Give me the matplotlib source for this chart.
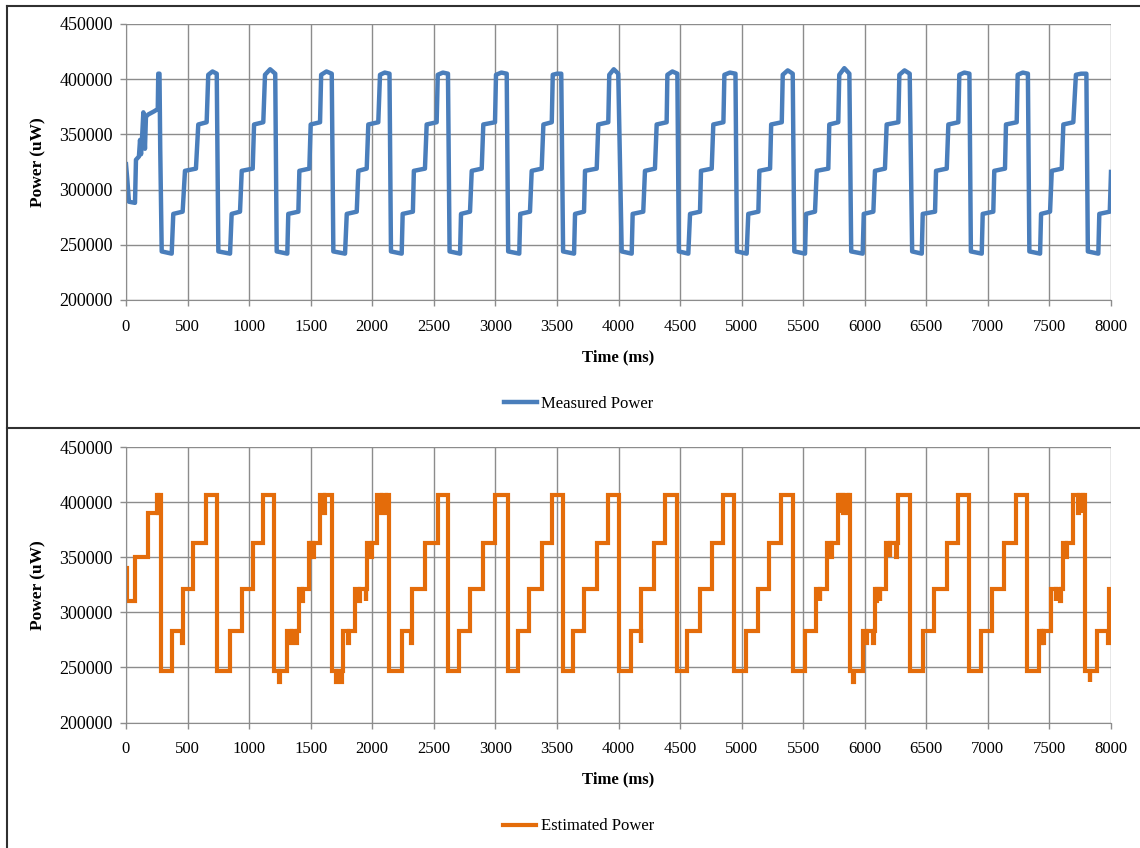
import matplotlib
matplotlib.use('Agg')
import matplotlib.pyplot as plt
from matplotlib.lines import Line2D

# ---- data ----
x_ticks = [0, 500, 1000, 1500, 2000, 2500, 3000, 3500, 4000,
           4500, 5000, 5500, 6000, 6500, 7000, 7500, 8000]
y_ticks = [200000, 250000, 300000, 350000, 400000, 450000]

# measured power: start of the trace (ms, uW)
meas_head_t = [0, 10, 24, 73, 81, 105, 114, 122, 130, 141, 154, 162,
               180, 230, 258, 262, 272, 278]
meas_head_v = [323000, 310000, 289000, 288000, 327000, 330000, 345000, 332000,
               346000, 370000, 337000, 366000, 368000, 371000, 373000, 405000,
               405000, 337000]
# measured power: for each cycle, start/end (ms) of the five plateaus
meas_cycles = [
    [290, 371, 384, 460, 479, 568, 587, 655, 668, 737],
    [750, 845, 858, 926, 940, 1029, 1040, 1115, 1129, 1212],
    [1224, 1310, 1318, 1400, 1408, 1489, 1500, 1576, 1585, 1671],
    [1684, 1779, 1793, 1874, 1887, 1955, 1968, 2049, 2063, 2140],
    [2152, 2239, 2247, 2330, 2338, 2428, 2442, 2523, 2532, 2615],
    [2628, 2713, 2721, 2794, 2808, 2889, 2902, 2997, 3005, 3092],
    [3104, 3194, 3202, 3281, 3295, 3376, 3390, 3458, 3466, 3535],
    [3550, 3639, 3647, 3720, 3728, 3823, 3836, 3917, 3925, 3998],
    [4026, 4107, 4115, 4201, 4215, 4296, 4310, 4391, 4397, 4478],
    [4490, 4567, 4581, 4662, 4670, 4757, 4770, 4852, 4860, 4950],
    [4962, 5041, 5054, 5136, 5144, 5231, 5240, 5326, 5334, 5415],
    [5428, 5515, 5523, 5596, 5610, 5704, 5712, 5785, 5793, 5875],
    [5890, 5983, 5992, 6070, 6083, 6164, 6178, 6273, 6281, 6365],
    [6385, 6463, 6471, 6571, 6579, 6666, 6679, 6760, 6768, 6850],
    [6862, 6950, 6958, 7044, 7052, 7139, 7147, 7234, 7242, 7325],
    [7337, 7424, 7432, 7505, 7519, 7600, 7613, 7694, 7715, 7800],
]
# plateau levels (start, end) in uW and the peak of each cycle
meas_levels = [(244000, 242000), (278000, 280000), (317000, 319000),
               (359000, 361000), (404000, 405000)]
meas_peak = [407000, 409000, 407000, 406000, 406000, 406000, 405000, 409000,
             407000, 406000, 408000, 410000, 408000, 406000, 406000, 405000]
meas_tail_t = [7812, 7897, 7905, 7990, 8000]
meas_tail_v = [244000, 242000, 278000, 280000, 316000]

# estimated power: step start times (ms) and levels (uW)
est_t = [
    0, 10, 70, 176, 252, 262, 266,
    282, 371, 452, 460, 547, 650,
    742, 845, 940, 1029, 1115,
    1205, 1246, 1252, 1305, 1343, 1348, 1383, 1388, 1408, 1428, 1434, 1489,
    1497, 1502, 1518, 1523, 1576, 1612, 1618,
    1671, 1707, 1712, 1748, 1753, 1765, 1803, 1808, 1860, 1892, 1897, 1946,
    1951, 1955, 1992, 1997, 2036, 2074, 2079, 2114, 2119,
    2140, 2239, 2318, 2326, 2428, 2537,
    2618, 2707, 2794, 2897, 2997,
    3100, 3186, 3273, 3376, 3458,
    3547, 3633, 3720, 3828, 3917,
    4007, 4099, 4180, 4186, 4288, 4378,
    4473, 4559, 4662, 4757, 4846,
    4941, 5036, 5136, 5225, 5320,
    5420, 5515, 5604, 5634, 5639, 5691, 5729, 5734, 5785, 5797, 5802, 5824,
    5829, 5865, 5870,
    5880, 5904, 5909, 5988, 6013, 6018, 6067, 6072, 6083, 6094, 6099, 6121,
    6126, 6173, 6202, 6207, 6256, 6261, 6273,
    6368, 6471, 6565, 6666, 6760,
    6849, 6944, 7036, 7134, 7226,
    7320, 7418, 7435, 7440, 7448, 7453, 7511, 7551, 7556, 7589, 7594, 7608,
    7638, 7643, 7694, 7733, 7738, 7769, 7774,
    7789, 7827, 7832, 7884, 7975, 7985, 8000,
]
est_v = [
    340000, 310000, 350000, 390000, 406000, 390000, 406000,
    247000, 283000, 272000, 321000, 363000, 406000,
    247000, 283000, 321000, 363000, 406000,
    247000, 237000, 247000, 283000, 272000, 283000, 272000, 283000, 321000,
    310000, 321000, 363000,
    350000, 363000, 350000, 363000, 406000, 390000, 406000,
    247000, 237000, 247000, 237000, 247000, 283000, 272000, 283000, 321000,
    310000, 321000, 310000,
    321000, 363000, 350000, 363000, 406000, 390000, 406000, 390000, 406000,
    247000, 283000, 272000, 321000, 363000, 406000,
    247000, 283000, 321000, 363000, 406000,
    247000, 283000, 321000, 363000, 406000,
    247000, 283000, 321000, 363000, 406000,
    247000, 283000, 272000, 321000, 363000, 406000,
    247000, 283000, 321000, 363000, 406000,
    247000, 283000, 321000, 363000, 406000,
    247000, 283000, 321000, 310000, 321000, 363000, 350000, 363000, 406000,
    390000, 406000, 390000,
    406000, 390000, 406000,
    247000, 237000, 247000, 283000, 272000, 283000, 272000, 283000, 321000,
    310000, 321000, 310000,
    321000, 363000, 350000, 363000, 350000, 363000, 406000,
    247000, 283000, 321000, 363000, 406000,
    247000, 283000, 321000, 363000, 406000,
    247000, 283000, 272000, 283000, 272000, 283000, 321000, 310000, 321000,
    310000, 321000, 363000,
    350000, 363000, 406000, 390000, 406000, 390000, 406000,
    247000, 237000, 247000, 283000, 272000, 321000, 321000,
]

# ---- build the measured trace from the plateaus ----
meas_t = list(meas_head_t)
meas_v = list(meas_head_v)
for times, peak in zip(meas_cycles, meas_peak):
    for i, (lv_a, lv_b) in enumerate(meas_levels):
        t0, t1 = times[2 * i], times[2 * i + 1]
        meas_t.append(t0)
        meas_v.append(lv_a)
        if i == 4:
            meas_t.append((t0 + t1) / 2)
            meas_v.append(peak)
        meas_t.append(t1)
        meas_v.append(lv_b)
meas_t += meas_tail_t
meas_v += meas_tail_v

plt.rcParams['font.family'] = ['Liberation Serif', 'DejaVu Serif']

W, H = 1140, 848
fig = plt.figure(figsize=(W / 100, H / 100), dpi=100)


def px_rect(left, top, right, bottom):
    return [left / W, 1 - bottom / H, (right - left) / W, (bottom - top) / H]


def style_axis(ax):
    ax.set_xlim(0, 8000)
    ax.set_ylim(200000, 450000)
    ax.set_xticks(x_ticks)
    ax.set_xticklabels([str(v) for v in x_ticks])
    ax.set_yticks(y_ticks)
    ax.set_yticklabels([str(v) for v in y_ticks])
    ax.grid(True, color='#8c8c8c', lw=1)
    ax.set_axisbelow(True)
    for s in ['top', 'right']:
        ax.spines[s].set_visible(False)
    for s in ['left', 'bottom']:
        ax.spines[s].set_color('#8c8c8c')
    ax.tick_params(direction='out', length=4.5, width=1, color='#8c8c8c',
                   labelcolor='black')
    ax.tick_params(axis='x', pad=9, labelsize=12)
    ax.tick_params(axis='y', pad=5, labelsize=13)
    ax.set_xlabel('Time (ms)', fontweight='bold', fontsize=12)
    ax.xaxis.set_label_coords(0.5, -57 / 276)
    ax.xaxis.label.set_va('center')
    ax.set_ylabel('Power (uW)', fontweight='bold', fontsize=12.5)
    ax.yaxis.set_label_coords(-87.5 / 985, 0.5)
    ax.yaxis.label.set_va('center')


# top chart: measured
ax1 = fig.add_axes(px_rect(126, 24, 1111, 300))
style_axis(ax1)
l1, = ax1.plot(meas_t, meas_v, color='#4a7ebb', lw=3.2, solid_joinstyle='round')
fig.legend(handles=[l1], labels=['Measured Power'], loc='center',
           bbox_to_anchor=(578.5 / W, 1 - 404 / H), frameon=False, fontsize=12,
           handlelength=2.0, handletextpad=0.25)

# bottom chart: estimated
ax2 = fig.add_axes(px_rect(126, 447, 1111, 722.5))
style_axis(ax2)
l2, = ax2.plot(est_t, est_v, color='#e46c0a', lw=3.0, drawstyle='steps-post',
               solid_joinstyle='miter')
fig.legend(handles=[l2], labels=['Estimated Power'], loc='center',
           bbox_to_anchor=(578.5 / W, 1 - 826.5 / H), frameon=False, fontsize=12,
           handlelength=2.0, handletextpad=0.25)

# chart area borders
for (x0, y0, x1, y1) in [(7, 6, W, 6), (7, 428, W, 428), (7, 6, 7, H)]:
    fig.add_artist(Line2D([x0 / W, x1 / W], [1 - y0 / H, 1 - y1 / H],
                          transform=fig.transFigure, color='#303030', lw=1.5))

fig.savefig('out.png', dpi=100)
